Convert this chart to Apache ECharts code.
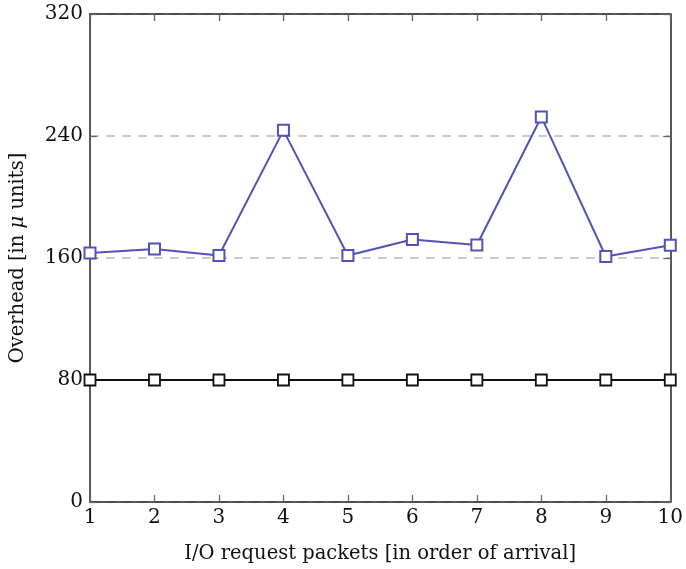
<!DOCTYPE html>
<html>
<head>
<meta charset="utf-8">
<script src="https://cdn.jsdelivr.net/npm/echarts@6/dist/echarts.min.js"></script>
<style>
html,body{margin:0;padding:0;background:#fff;}
#chart{width:686px;height:569px;}
</style>
</head>
<body>
<div id="chart"></div>
<script>
var packets = [1, 2, 3, 4, 5, 6, 7, 8, 9, 10];
var overheadBlue = [163.3, 165.9, 161.6, 243.7, 161.6, 172.1, 168.5, 252.5, 161.0, 168.3];
var overheadBlack = [80, 80, 80, 80, 80, 80, 80, 80, 80, 80];
var yTicks = [0, 80, 160, 240, 320];

var FONT = 'DejaVu Serif';
var TICK = 7;
var chart = echarts.init(document.getElementById('chart'), null, {renderer: 'canvas'});

function pairs(xs, ys) { return xs.map(function (x, i) { return [x, ys[i]]; }); }

function axisLine() { return {show: true, onZero: false, lineStyle: {color: '#222', width: 1.5}}; }
// inner ticks are drawn as outward ticks of an axis shifted into the plot
function tickAxis(kind, pos) {
  var o = {
    type: 'value', position: pos, offset: -TICK,
    axisLine: {show: false, onZero: false},
    axisTick: {show: true, inside: false, length: TICK, lineStyle: {color: '#666', width: 1.3}},
    axisLabel: {show: false}, splitLine: {show: false}
  };
  if (kind === 'x') { o.min = packets[0]; o.max = packets[packets.length - 1]; o.interval = 1; }
  else { o.min = yTicks[0]; o.max = yTicks[yTicks.length - 1]; o.interval = 80; }
  return o;
}

chart.setOption({
  animation: false,
  backgroundColor: '#fff',
  grid: {left: 88, right: 13, top: 14, bottom: 66, containLabel: false},
  xAxis: [{
    type: 'value', min: packets[0], max: packets[packets.length - 1], interval: 1, position: 'bottom',
    name: 'I/O request packets [in order of arrival]',
    nameLocation: 'middle', nameGap: 42,
    nameTextStyle: {fontFamily: FONT, fontSize: 19.5, color: '#111'},
    axisLine: axisLine(), axisTick: {show: false},
    axisLabel: {fontFamily: FONT, fontSize: 20, color: '#111', margin: 6},
    splitLine: {show: false}
  }, {
    type: 'value', min: packets[0], max: packets[packets.length - 1], interval: 1, position: 'top',
    axisLine: axisLine(), axisTick: {show: false},
    axisLabel: {show: false}, splitLine: {show: false}
  }, tickAxis('x', 'bottom'), tickAxis('x', 'top')],
  yAxis: [{
    type: 'value', min: yTicks[0], max: yTicks[yTicks.length - 1], interval: 80, position: 'left',
    name: '{a|Overhead [in }{b|μ}{a| units]}',
    nameLocation: 'middle', nameGap: 62, nameRotate: 90,
    nameTextStyle: {
      rich: {
        a: {fontFamily: FONT, fontSize: 19.5, color: '#111'},
        b: {fontFamily: FONT, fontSize: 19.5, color: '#111', fontStyle: 'italic'}
      }
    },
    axisLine: axisLine(), axisTick: {show: false},
    axisLabel: {fontFamily: FONT, fontSize: 20, color: '#111', margin: 7},
    splitLine: {show: true, lineStyle: {color: '#bbb', type: [9, 7], width: 1.5}}
  }, {
    type: 'value', min: yTicks[0], max: yTicks[yTicks.length - 1], interval: 80, position: 'right',
    axisLine: axisLine(), axisTick: {show: false},
    axisLabel: {show: false}, splitLine: {show: false}
  }, tickAxis('y', 'left'), tickAxis('y', 'right')],
  series: [{
    type: 'line', data: pairs(packets, overheadBlue),
    xAxisIndex: 0, yAxisIndex: 0,
    symbol: 'rect', symbolSize: 11,
    lineStyle: {color: '#5252b8', width: 2},
    itemStyle: {color: '#fff', borderColor: '#5252b8', borderWidth: 2},
    z: 5
  }, {
    type: 'line', data: pairs(packets, overheadBlack),
    xAxisIndex: 0, yAxisIndex: 0,
    symbol: 'rect', symbolSize: 11,
    lineStyle: {color: '#111', width: 2},
    itemStyle: {color: '#fff', borderColor: '#111', borderWidth: 1.8},
    z: 5
  }]
});
</script>
</body>
</html>
